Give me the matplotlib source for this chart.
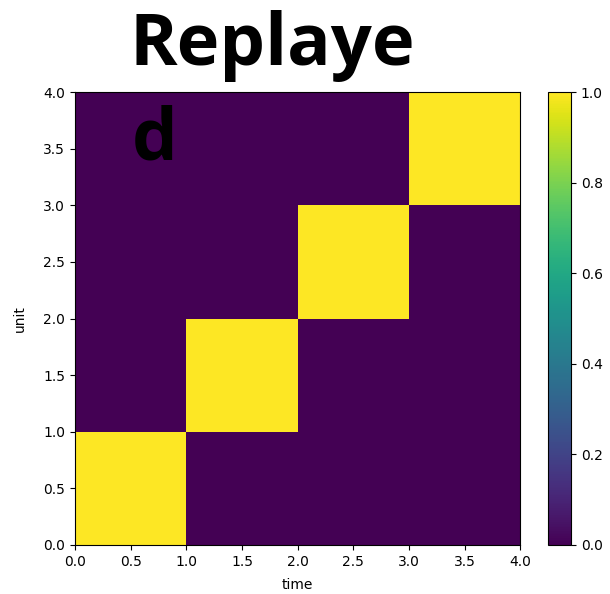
import numpy as np
import matplotlib
matplotlib.use('Agg')
from matplotlib import pyplot as plt

# unit activity over time (rows = unit, cols = time bin)
units = [0, 1, 2, 3]
times = [0, 1, 2, 3]
activity = [
    [1, 0, 0, 0],
    [0, 1, 0, 0],
    [0, 0, 1, 0],
    [0, 0, 0, 1],
]
overlay_text = ["Replaye", "d"]

fig = plt.figure(figsize=(6.1, 5.94), dpi=100)
ax = fig.add_axes([0.123, 0.0825, 0.730, 0.7625])
cax = fig.add_axes([0.898, 0.0825, 0.038, 0.7625])

data = np.array(activity, dtype=float)
im = ax.imshow(data, cmap='viridis', origin='lower', aspect='auto',
               extent=[times[0], times[-1] + 1, units[0], units[-1] + 1],
               vmin=0, vmax=1, interpolation='nearest')
ax.set_xticks(np.arange(0, 4.01, 0.5))
ax.set_yticks(np.arange(0, 4.01, 0.5))
ax.set_xlabel('time', fontsize=10, labelpad=7)
ax.set_ylabel('unit', fontsize=10, labelpad=12)
ax.tick_params(labelsize=10)

cb = fig.colorbar(im, cax=cax)
cb.set_ticks([0, 0.2, 0.4, 0.6, 0.8, 1.0])
cb.ax.tick_params(labelsize=10)

# big slide-style overlay text
fig.text(0.447, 0.923, overlay_text[0], fontsize=52, fontweight='bold',
         family='Open Sans', ha='center', va='center', color='black')
fig.text(0.254, 0.764, overlay_text[1], fontsize=52, fontweight='bold',
         family='Open Sans', ha='center', va='center', color='black')

fig.savefig('out.png', dpi=100)
